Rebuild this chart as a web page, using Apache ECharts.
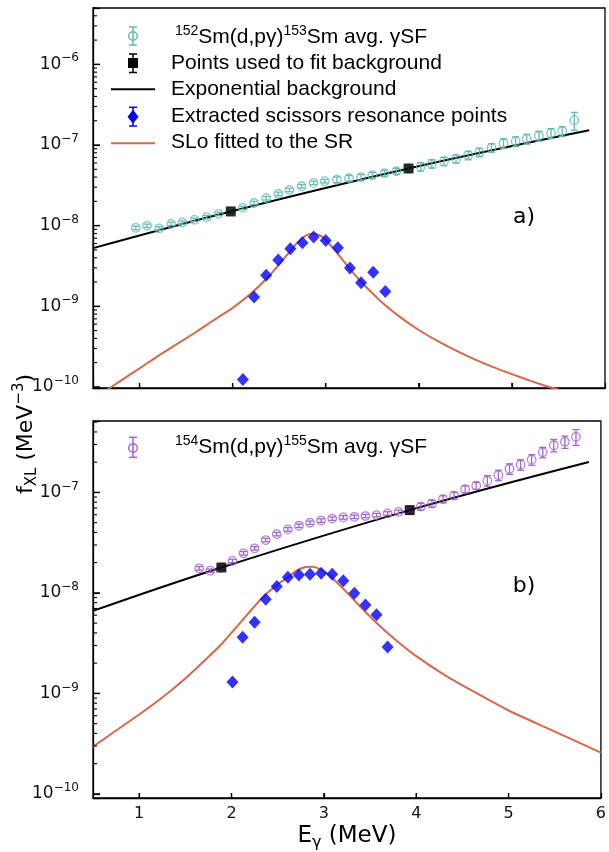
<!DOCTYPE html>
<html>
<head>
<meta charset="utf-8">
<script src="https://cdn.jsdelivr.net/npm/echarts@6/dist/echarts.min.js"></script>
<style>
  html, body { margin: 0; padding: 0; background: #fff; }
  #chart { width: 609px; height: 852px; }
</style>
</head>
<body>
<div id="chart"></div>
<script>
// ---------- panel a) 152Sm(d,pγ)153Sm ----------
const smA_E = [0.96, 1.08, 1.21, 1.34, 1.46, 1.59, 1.72, 1.85, 1.98, 2.11, 2.23, 2.36, 2.49, 2.61, 2.74, 2.87, 2.99, 3.12, 3.25,
  3.38, 3.50, 3.63, 3.76, 3.89, 4.02, 4.14, 4.27, 4.40, 4.53, 4.65, 4.78, 4.91, 5.04, 5.16, 5.29, 5.42, 5.54, 5.67];
const smA_f = [9.40e-9, 9.95e-9, 9.23e-9, 1.052e-8, 1.096e-8, 1.18e-8, 1.274e-8, 1.40e-8, 1.50e-8, 1.66e-8, 1.91e-8, 2.19e-8,
  2.48e-8, 2.77e-8, 3.08e-8, 3.39e-8, 3.56e-8, 3.71e-8, 3.87e-8, 3.99e-8, 4.22e-8, 4.47e-8, 4.73e-8, 5.11e-8, 5.38e-8,
  5.86e-8, 6.29e-8, 6.76e-8, 7.46e-8, 8.13e-8, 9.25e-8, 1.05e-7, 1.11e-7, 1.19e-7, 1.30e-7, 1.40e-7, 1.48e-7, 2.03e-7];
const smA_relErr = [0.05, 0.05, 0.05, 0.05, 0.05, 0.05, 0.05, 0.05, 0.05, 0.05, 0.05, 0.05, 0.05, 0.05, 0.05, 0.05, 0.05,
  0.08, 0.08, 0.08, 0.08, 0.08, 0.08, 0.08, 0.12, 0.12, 0.12, 0.12, 0.12, 0.12, 0.12, 0.14, 0.14, 0.14, 0.14, 0.14, 0.14, 0.25];
const smA_bgPointsE = [1.98, 3.89];
const smA_bgPointsF = [1.50e-8, 5.11e-8];
const smA_bgLineE = [0.50, 1.98, 3.89, 5.83];
const smA_bgLineF = [5.26e-9, 1.50e-8, 5.11e-8, 1.52e-7];
const smA_srE = [2.11, 2.23, 2.36, 2.49, 2.62, 2.75, 2.87, 3.00, 3.13, 3.26, 3.38, 3.51, 3.64];
const smA_srF = [1.24e-10, 1.30e-9, 2.42e-9, 3.74e-9, 5.16e-9, 6.12e-9, 7.21e-9, 6.56e-9, 5.31e-9, 2.98e-9, 1.96e-9, 2.65e-9, 1.53e-9];
const smA_sloE = [0.6, 0.8, 1.0, 1.2, 1.4, 1.6, 1.8, 2.0, 2.2, 2.4, 2.5, 2.6, 2.7, 2.8, 2.88, 2.95, 3.0, 3.1, 3.2, 3.3, 3.4,
  3.6, 3.8, 4.0, 4.2, 4.4, 4.6, 4.8, 5.0, 5.2, 5.4, 5.6];
const smA_sloF = [8.41e-11, 1.20e-10, 1.70e-10, 2.43e-10, 3.39e-10, 4.73e-10, 6.76e-10, 9.55e-10, 1.45e-9, 2.43e-9, 3.31e-9,
  4.57e-9, 6.24e-9, 7.67e-9, 8.0e-9, 7.40e-9, 6.64e-9, 4.94e-9, 3.54e-9, 2.56e-9, 1.90e-9, 1.13e-9, 7.33e-10, 5.08e-10,
  3.72e-10, 2.82e-10, 2.20e-10, 1.76e-10, 1.44e-10, 1.19e-10, 1.0e-10, 8.55e-11];

// ---------- panel b) 154Sm(d,pγ)155Sm ----------
const smB_E = [1.65, 1.77, 1.89, 2.01, 2.13, 2.25, 2.37, 2.49, 2.61, 2.73, 2.85, 2.97, 3.09, 3.21, 3.33, 3.45, 3.57, 3.69,
  3.81, 3.93, 4.05, 4.17, 4.29, 4.41, 4.53, 4.65, 4.77, 4.89, 5.01, 5.13, 5.25, 5.37, 5.49, 5.61, 5.73];
const smB_f = [1.758e-8, 1.665e-8, 1.79e-8, 2.08e-8, 2.48e-8, 2.78e-8, 3.36e-8, 3.85e-8, 4.29e-8, 4.66e-8, 4.99e-8, 5.25e-8,
  5.49e-8, 5.65e-8, 5.72e-8, 5.82e-8, 5.95e-8, 6.18e-8, 6.41e-8, 6.67e-8, 7.23e-8, 7.74e-8, 8.58e-8, 9.29e-8, 1.079e-7,
  1.168e-7, 1.31e-7, 1.485e-7, 1.72e-7, 1.89e-7, 2.12e-7, 2.51e-7, 2.95e-7, 3.19e-7, 3.58e-7];
const smB_relErr = [0.04, 0.04, 0.04, 0.04, 0.04, 0.04, 0.04, 0.04, 0.04, 0.04, 0.04, 0.04, 0.04, 0.04, 0.04, 0.04, 0.04, 0.04,
  0.04, 0.08, 0.08, 0.08, 0.08, 0.08, 0.08, 0.08, 0.12, 0.12, 0.12, 0.12, 0.12, 0.12, 0.14, 0.14, 0.18];
const smB_bgPointsE = [1.89, 3.93];
const smB_bgPointsF = [1.79e-8, 6.67e-8];
const smB_bgLineE = [0.50, 1.89, 3.93, 5.87];
const smB_bgLineF = [6.62e-9, 1.79e-8, 6.67e-8, 2.01e-7];
const smB_srE = [2.01, 2.12, 2.25, 2.37, 2.49, 2.61, 2.73, 2.85, 2.97, 3.09, 3.21, 3.33, 3.45, 3.57, 3.69];
const smB_srF = [1.30e-9, 3.63e-9, 5.12e-9, 8.65e-9, 1.16e-8, 1.43e-8, 1.51e-8, 1.53e-8, 1.57e-8, 1.53e-8, 1.32e-8, 9.93e-9,
  7.6e-9, 6.05e-9, 2.89e-9];
const smB_sloE = [0.5, 0.75, 1.0, 1.25, 1.5, 1.7, 1.9, 2.1, 2.3, 2.4, 2.5, 2.6, 2.7, 2.8, 2.88, 2.96, 3.05, 3.15, 3.25, 3.4,
  3.6, 3.8, 4.0, 4.3, 4.6, 5.0, 5.5, 6.0];
const smB_sloF = [2.95e-10, 4.27e-10, 6.17e-10, 9.12e-10, 1.41e-9, 2.09e-9, 3.16e-9, 5.13e-9, 8.32e-9, 1.02e-8, 1.22e-8, 1.41e-8,
  1.66e-8, 1.81e-8, 1.824e-8, 1.72e-8, 1.52e-8, 1.25e-8, 1.01e-8, 7.21e-9, 4.74e-9, 3.27e-9, 2.35e-9, 1.54e-9, 1.07e-9,
  6.76e-10, 4.17e-10, 2.57e-10];

// axis ranges and tick positions
const eRange = [0.5, 6.0];
const eTicks = [1, 2, 3, 4, 5];
const fRangeA = [9.7e-11, 5.0e-6];
const fRangeB = [9.1e-11, 5.14e-7];
const decadesA = [-11, -10, -9, -8, -7, -6];
const decadesB = [-11, -10, -9, -8, -7];
const minorMultipliers = [2, 3, 4, 5, 6, 7, 8, 9];

// ---------- styling ----------
const TEAL = '#63bcb3';
const PURPLE = '#a463d3';
const BLUE = '#0000ff';
const SLO = '#d6684d';
const TICK_FONT = 'DejaVu Sans';
const LEG_FONT = 'Liberation Sans';

const zip = (xs, ys) => xs.map((x, i) => [x, ys[i]]);

function powerLabel(v) {
  const e = Math.log10(v);
  const n = Math.round(e);
  if (Math.abs(e - n) > 1e-6) return '';
  return '{b|10}{s|\u2212' + Math.abs(n) + '}';
}

function xAxisDef(gridIndex, showLabels) {
  return {
    type: 'value', gridIndex, min: eRange[0], max: eRange[1], splitNumber: 5,
    axisLine: { show: true, onZero: false, lineStyle: { color: '#000', width: 1.3 } },
    axisTick: { show: true, inside: true, length: 5, lineStyle: { color: '#000', width: 1.2 } },
    splitLine: { show: false },
    axisLabel: {
      show: showLabels, margin: 8, color: '#111', fontFamily: TICK_FONT, fontSize: 16,
      showMinLabel: false,
      formatter: v => (Math.abs(v - Math.round(v)) < 1e-9 ? String(Math.round(v)) : '')
    }
  };
}

function yAxisDef(gridIndex, range) {
  return {
    type: 'log', logBase: 10, gridIndex, min: range[0], max: range[1],
    axisLine: { show: true, onZero: false, lineStyle: { color: '#000', width: 1.3 } },
    axisTick: { show: true, inside: true, length: 7, lineStyle: { color: '#000', width: 1.2 } },
    minorTick: { show: false },
    splitLine: { show: false },
    minorSplitLine: { show: false },
    axisLabel: {
      margin: 14, color: '#111', formatter: powerLabel,
      rich: {
        b: { fontFamily: TICK_FONT, fontSize: 17, lineHeight: 24, color: '#111' },
        s: { fontFamily: TICK_FONT, fontSize: 12, lineHeight: 13, verticalAlign: 'top', color: '#111' }
      }
    }
  };
}

function errorBars(xi, yi, E, F, rel, color) {
  return {
    type: 'custom', xAxisIndex: xi, yAxisIndex: yi, silent: true, z: 3,
    data: E.map((e, i) => [e, F[i] * (1 - rel[i]), F[i] * (1 + rel[i])]),
    encode: { x: 0, y: [1, 2] },
    renderItem(params, api) {
      const lo = api.coord([api.value(0), api.value(1)]);
      const hi = api.coord([api.value(0), api.value(2)]);
      const w = 3.5;
      const st = { stroke: color, lineWidth: 1.3 };
      return {
        type: 'group',
        children: [
          { type: 'line', shape: { x1: lo[0], y1: lo[1], x2: hi[0], y2: hi[1] }, style: st },
          { type: 'line', shape: { x1: lo[0] - w, y1: lo[1], x2: lo[0] + w, y2: lo[1] }, style: st },
          { type: 'line', shape: { x1: hi[0] - w, y1: hi[1], x2: hi[0] + w, y2: hi[1] }, style: st }
        ]
      };
    }
  };
}

function openCircles(xi, yi, E, F, color) {
  return {
    type: 'scatter', xAxisIndex: xi, yAxisIndex: yi, silent: true, z: 4,
    symbol: 'circle', symbolSize: 8.5,
    itemStyle: { color: 'rgba(255,255,255,0)', borderColor: color, borderWidth: 1.3 },
    data: zip(E, F)
  };
}

function curve(xi, yi, E, F, color, smooth, z) {
  return {
    type: 'line', xAxisIndex: xi, yAxisIndex: yi, silent: true, z,
    showSymbol: false, smooth, clip: true,
    lineStyle: { color, width: 2 },
    data: zip(E, F)
  };
}

function diamonds(xi, yi, E, F) {
  return {
    type: 'scatter', xAxisIndex: xi, yAxisIndex: yi, silent: true, z: 6,
    symbol: 'diamond', symbolSize: [12, 13],
    itemStyle: { color: BLUE },
    data: zip(E, F)
  };
}

function squares(xi, yi, E, F) {
  return {
    type: 'scatter', xAxisIndex: xi, yAxisIndex: yi, silent: true, z: 7,
    symbol: 'rect', symbolSize: 10,
    itemStyle: { color: '#000' },
    data: zip(E, F)
  };
}

// legend glyphs
function legBar(x, y1, y2, color) {
  const st = { stroke: color, lineWidth: 1.5 };
  return [
    { type: 'line', shape: { x1: x, y1, x2: x, y2 }, style: st },
    { type: 'line', shape: { x1: x - 4, y1, x2: x + 4, y2: y1 }, style: st },
    { type: 'line', shape: { x1: x - 4, y1: y2, x2: x + 4, y2 }, style: st }
  ];
}
function legText(x, y, text) {
  return {
    type: 'text', x, y,
    style: {
      text, fill: '#000', font: '21px "' + LEG_FONT + '"', verticalAlign: 'middle', align: 'left',
      rich: {
        n: { fontFamily: LEG_FONT, fontSize: 21, lineHeight: 26, fill: '#000' },
        sup: { fontFamily: LEG_FONT, fontSize: 14, lineHeight: 14, verticalAlign: 'top', fill: '#000' }
      }
    }
  };
}

const legendGraphics = [
  // a) legend
  ...legBar(133, 27, 45, TEAL),
  { type: 'circle', shape: { cx: 133, cy: 36, r: 4.3 }, style: { fill: 'rgba(0,0,0,0)', stroke: TEAL, lineWidth: 1.4 } },
  legText(171, 37, '{sup| 152}{n|Sm(d,pγ)}{sup|153}{n|Sm avg. γSF}'),
  ...legBar(133, 54, 72.5, '#000'),
  { type: 'rect', shape: { x: 128, y: 58, width: 10, height: 10 }, style: { fill: '#000' } },
  legText(171, 63, 'Points used to fit background'),
  { type: 'line', shape: { x1: 111, y1: 89.3, x2: 155, y2: 89.3 }, style: { stroke: '#000', lineWidth: 2 } },
  legText(171, 89, 'Exponential background'),
  ...legBar(133, 107.3, 126, BLUE),
  { type: 'polygon', shape: { points: [[133, 109.7], [138.5, 116.7], [133, 123.7], [127.5, 116.7]] }, style: { fill: BLUE } },
  legText(171, 116, 'Extracted scissors resonance points'),
  { type: 'line', shape: { x1: 111, y1: 143.3, x2: 155, y2: 143.3 }, style: { stroke: SLO, lineWidth: 2 } },
  legText(171, 142, 'SLo fitted to the SR'),
  // b) legend
  ...legBar(133, 437.3, 457.3, PURPLE),
  { type: 'circle', shape: { cx: 133, cy: 448, r: 4.3 }, style: { fill: 'rgba(0,0,0,0)', stroke: PURPLE, lineWidth: 1.4 } },
  legText(171, 447, '{sup| 154}{n|Sm(d,pγ)}{sup|155}{n|Sm avg. γSF}'),
  // panel tags
  { type: 'text', x: 524, y: 217, style: { text: 'a)', font: '22px "DejaVu Sans"', fill: '#000', align: 'center', verticalAlign: 'middle' } },
  { type: 'text', x: 524, y: 586, style: { text: 'b)', font: '22px "DejaVu Sans"', fill: '#000', align: 'center', verticalAlign: 'middle' } },
  // shared y title
  {
    type: 'text', x: 26, y: 434, rotation: Math.PI / 2,
    style: {
      text: '{n|f}{sub|XL}{n| (MeV}{sup|\u22123}{n|)}', align: 'center', verticalAlign: 'middle',
      rich: {
        n: { fontFamily: 'DejaVu Sans', fontSize: 22, lineHeight: 28, fill: '#000' },
        sub: { fontFamily: 'DejaVu Sans', fontSize: 15, lineHeight: 15, verticalAlign: 'bottom', fill: '#000' },
        sup: { fontFamily: 'DejaVu Sans', fontSize: 15, lineHeight: 15, verticalAlign: 'top', fill: '#000' }
      }
    }
  }
];

const chart = echarts.init(document.getElementById('chart'), null, { renderer: 'canvas' });
chart.setOption({
  backgroundColor: '#fff',
  animation: false,
  grid: [
    { left: 93, top: 8, width: 512, height: 380, show: true, borderColor: '#000', borderWidth: 1.3, backgroundColor: 'transparent' },
    { left: 93, top: 421, width: 512, height: 378, show: true, borderColor: '#000', borderWidth: 1.3, backgroundColor: 'transparent' }
  ],
  xAxis: [
    xAxisDef(0, false),
    Object.assign(xAxisDef(1, true), {
      name: '{n|E}{sub|γ}{n| (MeV)}', nameLocation: 'middle', nameGap: 23,
      nameTextStyle: {
        rich: {
          n: { fontFamily: 'DejaVu Sans', fontSize: 23, lineHeight: 30, color: '#000' },
          sub: { fontFamily: 'DejaVu Sans', fontSize: 16, lineHeight: 16, verticalAlign: 'bottom', color: '#000' }
        }
      }
    })
  ],
  yAxis: [yAxisDef(0, fRangeA), yAxisDef(1, fRangeB)],
  series: [
    curve(0, 0, smA_bgLineE, smA_bgLineF, '#000', 0.4, 2),
    errorBars(0, 0, smA_E, smA_f, smA_relErr, TEAL),
    openCircles(0, 0, smA_E, smA_f, TEAL),
    curve(0, 0, smA_sloE, smA_sloF, SLO, 0.2, 5),
    diamonds(0, 0, smA_srE, smA_srF),
    squares(0, 0, smA_bgPointsE, smA_bgPointsF),

    curve(1, 1, smB_bgLineE, smB_bgLineF, '#000', 0.4, 2),
    errorBars(1, 1, smB_E, smB_f, smB_relErr, PURPLE),
    openCircles(1, 1, smB_E, smB_f, PURPLE),
    curve(1, 1, smB_sloE, smB_sloF, SLO, 0.2, 5),
    diamonds(1, 1, smB_srE, smB_srF),
    squares(1, 1, smB_bgPointsE, smB_bgPointsF)
  ]
});

// inward tick marks placed through each axis' own scale
function tickMarks() {
  const marks = [];
  const panels = [[0, fRangeA, decadesA], [1, fRangeB, decadesB]];
  panels.forEach(([idx, range, decades]) => {
    const x0 = chart.convertToPixel({ xAxisIndex: idx }, eRange[0]);
    const yBottom = chart.convertToPixel({ yAxisIndex: idx }, range[0]);
    const addY = (v, len, w) => {
      const y = chart.convertToPixel({ yAxisIndex: idx }, v);
      marks.push({ type: 'line', z: 20, shape: { x1: x0, y1: y, x2: x0 + len, y2: y }, style: { stroke: '#000', lineWidth: w } });
    };
    decades.forEach(d => {
      const major = Math.pow(10, d);
      if (major >= range[0] && major <= range[1]) addY(major, 7, 1.3);
      minorMultipliers.forEach(m => {
        const v = m * major;
        if (v > range[0] && v < range[1]) addY(v, 4, 1.1);
      });
    });
    eTicks.forEach(e => {
      const x = chart.convertToPixel({ xAxisIndex: idx }, e);
      marks.push({ type: 'line', z: 20, shape: { x1: x, y1: yBottom, x2: x, y2: yBottom - 5 }, style: { stroke: '#000', lineWidth: 1.3 } });
    });
  });
  return marks;
}

chart.setOption({ graphic: legendGraphics.concat(tickMarks()) });
</script>
</body>
</html>
